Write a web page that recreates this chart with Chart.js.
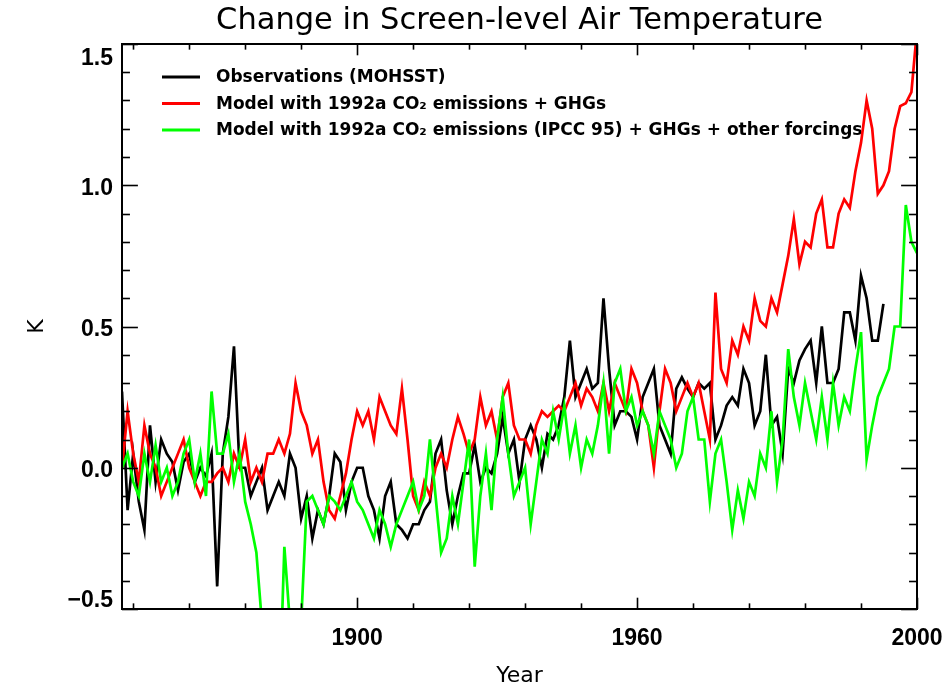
<!DOCTYPE html>
<html>
<head>
<meta charset="utf-8">
<title>Change in Screen-level Air Temperature</title>
<script src="https://cdn.jsdelivr.net/npm/chart.js@4.4.1/dist/chart.umd.min.js"></script>
<style>
  html, body { margin: 0; padding: 0; background: #ffffff; }
  #wrap { width: 950px; height: 689px; }
</style>
</head>
<body>
<div id="wrap"><canvas id="c" width="950" height="689"></canvas></div>
<script>
// Annual mean anomalies (K), one value per year starting at firstYear
const firstYear = 1858;

const observations = [
  0.27, -0.15, 0.05, -0.12, -0.22, 0.15, -0.05, 0.10, 0.05, 0.02,
  -0.08, 0.02, 0.05, -0.05, 0.00, -0.03, 0.05, -0.42, 0.05, 0.18,
  0.43, 0.00, 0.00, -0.10, -0.05, 0.00, -0.15, -0.10, -0.05, -0.10,
  0.05, 0.00, -0.18, -0.10, -0.25, -0.15, -0.20, -0.10, 0.05, 0.02,
  -0.15, -0.05, 0.00, 0.00, -0.10, -0.15, -0.25, -0.10, -0.05, -0.20,
  -0.22, -0.25, -0.20, -0.20, -0.15, -0.12, 0.05, 0.10, -0.08, -0.20,
  -0.10, -0.02, -0.02, 0.08, -0.05, 0.00, -0.02, 0.05, 0.18, 0.05,
  0.10, -0.05, 0.10, 0.15, 0.10, 0.00, 0.12, 0.10, 0.15, 0.25,
  0.45, 0.25, 0.30, 0.35, 0.28, 0.30, 0.60, 0.35, 0.15, 0.20,
  0.20, 0.18, 0.10, 0.25, 0.30, 0.35, 0.15, 0.10, 0.05, 0.28,
  0.32, 0.28, 0.25, 0.30, 0.28, 0.30, 0.10, 0.15, 0.22, 0.25,
  0.22, 0.35, 0.30, 0.15, 0.20, 0.40, 0.15, 0.18, 0.05, 0.35,
  0.30, 0.38, 0.42, 0.45, 0.30, 0.50, 0.30, 0.30, 0.35, 0.55,
  0.55, 0.45, 0.68, 0.60, 0.45, 0.45, 0.58
];

const modelGhgOnly = [
  0.00, 0.20, 0.05, -0.05, 0.15, 0.05, 0.00, -0.10, -0.05, 0.00,
  0.05, 0.10, 0.00, -0.05, -0.10, -0.05, -0.05, -0.02, 0.00, -0.05,
  0.05, 0.00, 0.10, -0.05, 0.00, -0.05, 0.05, 0.05, 0.10, 0.05,
  0.12, 0.30, 0.20, 0.15, 0.05, 0.10, -0.05, -0.15, -0.18, -0.10,
  -0.02, 0.10, 0.20, 0.15, 0.20, 0.10, 0.25, 0.20, 0.15, 0.12,
  0.28, 0.10, -0.10, -0.15, -0.05, -0.10, 0.00, 0.05, 0.00, 0.10,
  0.18, 0.12, 0.05, 0.10, 0.25, 0.15, 0.20, 0.10, 0.25, 0.30,
  0.15, 0.10, 0.10, 0.05, 0.15, 0.20, 0.18, 0.20, 0.22, 0.20,
  0.25, 0.30, 0.22, 0.28, 0.25, 0.20, 0.30, 0.20, 0.30, 0.25,
  0.20, 0.35, 0.30, 0.20, 0.15, 0.00, 0.20, 0.35, 0.30, 0.20,
  0.25, 0.30, 0.25, 0.30, 0.20, 0.10, 0.62, 0.35, 0.30, 0.45,
  0.40, 0.50, 0.45, 0.60, 0.52, 0.50, 0.60, 0.55, 0.65, 0.75,
  0.88, 0.72, 0.80, 0.78, 0.90, 0.95, 0.78, 0.78, 0.90, 0.95,
  0.92, 1.05, 1.15, 1.30, 1.20, 0.97, 1.00, 1.05, 1.20, 1.28,
  1.29, 1.33, 1.55
];

const modelAllForcings = [
  0.00, 0.05, -0.05, -0.10, 0.05, -0.05, 0.08, -0.05, 0.00, -0.10,
  -0.05, 0.05, 0.10, -0.05, 0.05, -0.10, 0.27, 0.05, 0.05, 0.12,
  -0.05, 0.05, -0.12, -0.20, -0.30, -0.55, -0.80, -0.85, -0.90, -0.28,
  -0.55, -0.80, -0.55, -0.12, -0.10, -0.15, -0.20, -0.10, -0.12, -0.15,
  -0.10, -0.05, -0.12, -0.15, -0.20, -0.25, -0.15, -0.20, -0.28, -0.20,
  -0.15, -0.10, -0.05, -0.15, -0.10, 0.10, -0.10, -0.30, -0.25, -0.10,
  -0.20, -0.05, 0.10, -0.35, -0.10, 0.05, -0.15, 0.10, 0.25, 0.05,
  -0.10, -0.05, 0.00, -0.20, -0.05, 0.10, 0.05, 0.20, 0.10, 0.22,
  0.05, 0.15, 0.00, 0.10, 0.05, 0.15, 0.30, 0.05, 0.30, 0.35,
  0.20, 0.25, 0.15, 0.20, 0.15, 0.05, 0.20, 0.15, 0.10, 0.00,
  0.05, 0.20, 0.25, 0.10, 0.10, -0.12, 0.05, 0.10, -0.05, -0.22,
  -0.08, -0.18, -0.05, -0.10, 0.05, 0.00, 0.20, -0.05, 0.10, 0.42,
  0.25, 0.15, 0.30, 0.20, 0.10, 0.25, 0.10, 0.30, 0.15, 0.25,
  0.20, 0.35, 0.48, 0.03, 0.15, 0.25, 0.30, 0.35, 0.50, 0.50,
  0.93, 0.80, 0.76
];

const seriesNames = [
  'Observations (MOHSST)',
  'Model with 1992a CO\u2082 emissions + GHGs',
  'Model with 1992a CO\u2082 emissions (IPCC 95) + GHGs + other forcings'
];
const seriesColors = ['#000000', '#ff0000', '#00ff00'];

const xTickValues = [1900, 1950, 2000];
const xTickLabels = ['1900', '1960', '2000'];
const yTickValues = [-0.5, 0.0, 0.5, 1.0, 1.5];
const yTickLabels = ['\u22120.5', '0.0', '0.5', '1.0', '1.5'];

const xMin = 1858, xMax = 2000, yMin = -0.5, yMax = 1.5;
const xMinorStep = 10, yMinorStep = 0.1;

const tickFont = 'bold 23px "Liberation Sans"';

function toPoints(values) {
  return values.map((v, i) => ({ x: firstYear + i, y: v }));
}

// Box around the plot with inward ticks on all four sides (major + minor),
// plus the value labels of the K axis, kept inside the vertical span of the box
const framePlugin = {
  id: 'frame',
  afterDatasetsDraw(chart) {
    const { ctx, chartArea: a, scales } = chart;
    const xs = scales.x, ys = scales.y;
    const w = a.right - a.left, h = a.bottom - a.top;
    const xMajorLen = 0.02 * h, yMajorLen = 0.02 * w;
    ctx.save();
    ctx.strokeStyle = '#000';
    ctx.lineWidth = 1.6;
    const seg = (x1, y1, x2, y2) => { ctx.beginPath(); ctx.moveTo(x1, y1); ctx.lineTo(x2, y2); ctx.stroke(); };
    const firstMinorX = Math.ceil(xMin / xMinorStep) * xMinorStep;
    for (let v = firstMinorX; v <= xMax + 1e-9; v += xMinorStep) {
      const px = Math.round(xs.getPixelForValue(v)) + 0.5;
      const len = xTickValues.includes(v) ? xMajorLen : xMajorLen / 2;
      seg(px, a.bottom, px, a.bottom - len);
      seg(px, a.top, px, a.top + len);
    }
    const n = Math.round((yMax - yMin) / yMinorStep);
    for (let k = 0; k <= n; k++) {
      const v = +(yMin + k * yMinorStep).toFixed(2);
      const py = Math.round(ys.getPixelForValue(v)) + 0.5;
      const major = yTickValues.some(t => Math.abs(t - v) < 1e-6);
      const len = major ? yMajorLen : yMajorLen / 2;
      seg(a.left, py, a.left + len, py);
      seg(a.right, py, a.right - len, py);
    }
    ctx.lineWidth = 2;
    ctx.strokeRect(a.left, a.top, w, h);

    ctx.fillStyle = '#000';
    ctx.font = tickFont;
    ctx.textAlign = 'right';
    ctx.textBaseline = 'middle';
    yTickValues.forEach((v, i) => {
      const py = Math.min(Math.max(ys.getPixelForValue(v) + 3, a.top + 15), a.bottom - 8);
      ctx.fillText(yTickLabels[i], a.left - 9, py);
    });
    ctx.restore();
  }
};

// Legend in the upper-left of the plot: short line sample followed by the series name
const legendPlugin = {
  id: 'insideLegend',
  beforeDatasetsDraw(chart) {
    const { ctx } = chart;
    const lineX0 = 162, lineX1 = 200, textX = 216, rowY0 = 77, rowStep = 26.5;
    ctx.save();
    ctx.font = 'bold 17px "DejaVu Sans"';
    ctx.textBaseline = 'middle';
    ctx.textAlign = 'left';
    chart.data.datasets.forEach((ds, i) => {
      const y = rowY0 + i * rowStep;
      ctx.strokeStyle = ds.borderColor;
      ctx.lineWidth = 3;
      ctx.beginPath(); ctx.moveTo(lineX0, y); ctx.lineTo(lineX1, y); ctx.stroke();
      ctx.fillStyle = '#000';
      ctx.fillText(ds.label, textX, y + 1);
    });
    ctx.restore();
  }
};

const datasets = [observations, modelGhgOnly, modelAllForcings].map((vals, i) => ({
  label: seriesNames[i],
  data: toPoints(vals),
  borderColor: seriesColors[i],
  backgroundColor: seriesColors[i],
  borderWidth: 2.7,
  pointRadius: 0,
  tension: 0,
  fill: false,
  order: 2 - i
}));

new Chart(document.getElementById('c'), {
  type: 'line',
  data: { datasets },
  plugins: [legendPlugin, framePlugin],
  options: {
    responsive: false,
    animation: false,
    devicePixelRatio: 1,
    layout: { padding: { left: 0, right: 33, top: 0, bottom: 0 } },
    plugins: {
      legend: { display: false },
      tooltip: { enabled: false },
      title: {
        display: true,
        text: 'Change in Screen-level Air Temperature',
        fullSize: false,
        color: '#000',
        font: { family: '"DejaVu Sans"', size: 30.5, weight: 'normal', lineHeight: 1.2 },
        padding: { top: 2.6, bottom: 4.8 }
      }
    },
    scales: {
      x: {
        type: 'linear',
        min: xMin,
        max: xMax,
        afterBuildTicks(scale) { scale.ticks = xTickValues.map(v => ({ value: v })); },
        afterFit(scale) { scale.height = 80; scale.paddingLeft = 0; scale.paddingRight = 0; },
        grid: { display: false, drawTicks: false },
        border: { display: false },
        ticks: {
          autoSkip: false,
          maxRotation: 0,
          padding: 16,
          color: '#000',
          font: { family: '"Liberation Sans"', size: 23, weight: 'bold', lineHeight: 1.2 },
          callback: (v) => xTickLabels[xTickValues.indexOf(v)]
        },
        title: {
          display: true,
          text: 'Year',
          color: '#000',
          font: { family: '"DejaVu Sans"', size: 22, lineHeight: 1.2 },
          padding: { top: 0, bottom: 0 }
        }
      },
      y: {
        type: 'linear',
        min: yMin,
        max: yMax,
        afterBuildTicks(scale) { scale.ticks = yTickValues.map(v => ({ value: v })); },
        afterFit(scale) { scale.width = 122; scale.paddingTop = 0; scale.paddingBottom = 0; },
        grid: { display: false, drawTicks: false },
        border: { display: false },
        ticks: { display: false },
        title: {
          display: true,
          text: 'K',
          color: '#000',
          font: { family: '"DejaVu Sans"', size: 22, lineHeight: 1.2 },
          padding: { top: 24, bottom: 0 }
        }
      }
    }
  }
});
</script>
</body>
</html>
